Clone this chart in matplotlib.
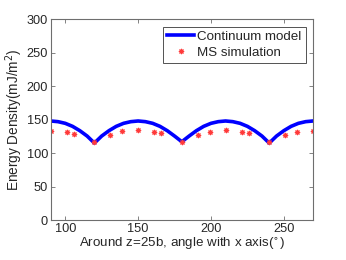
import numpy as np
import matplotlib.pyplot as plt

plt.rcParams['font.family'] = ['Liberation Sans', 'DejaVu Sans']

# Continuum model (every 5 degrees)
theta_model = list(range(90, 275, 5))
e_model = [148, 147, 144.5, 140, 133.5, 125.5, 115,
           125.5, 133.5, 140, 144.5, 147, 148,
           147, 144.5, 140, 133.5, 125.5, 117,
           125.5, 133.5, 140, 144.5, 147, 148,
           147, 144.5, 140, 133.5, 125.5, 115,
           125.5, 133.5, 140, 144.5, 147, 148]

# MS simulation points
theta_ms = [90, 101, 106, 120, 131, 139, 150, 161, 166, 180,
            191, 199, 210, 221, 226, 240, 251, 259, 270]
e_ms = [133.5, 132, 129, 116, 127.5, 132.5, 134, 132, 129.5, 116,
        127.5, 132, 134, 132, 129.5, 116, 127.5, 132, 133.5]

txt = '#262626'
edge = '#6e6e6e'

fig = plt.figure(figsize=(3.46, 2.6), dpi=100)
ax = fig.add_axes([0.1465, 0.1538, 0.758, 0.772])

ax.plot(theta_model, e_model, color='#0000ff', lw=2.6, label='Continuum model')
ax.plot(theta_ms, e_ms, ls='none', marker=(8, 2, 0), ms=3.8, color='#ff3a3a',
        markeredgewidth=0.75, label='MS simulation')

ax.set_xlim(90, 270)
ax.set_ylim(0, 300)
ax.set_xticks([100, 150, 200, 250])
ax.set_yticks(range(0, 301, 50))
ax.tick_params(direction='in', top=True, right=True, length=3, width=0.6,
               labelsize=9.2, colors=edge, labelcolor=txt, pad=2)
for s in ax.spines.values():
    s.set_color(edge)
    s.set_linewidth(0.8)

ax.set_xlabel('Around z=25b, angle with x axis($^{\\circ}$)', fontsize=9.6,
              color=txt, labelpad=1)
ax.set_ylabel('Energy Density(mJ/m$^2$)', fontsize=9.8, color=txt, labelpad=1)

leg = ax.legend(loc='upper right', fontsize=9.6, frameon=True, fancybox=False,
                handlelength=2.0, handletextpad=0.25, borderpad=0.3,
                labelspacing=0.25, borderaxespad=0.55)
leg.get_frame().set_edgecolor(txt)
leg.get_frame().set_linewidth(0.7)
for t in leg.get_texts():
    t.set_color(txt)

fig.savefig('out.png', dpi=100)
